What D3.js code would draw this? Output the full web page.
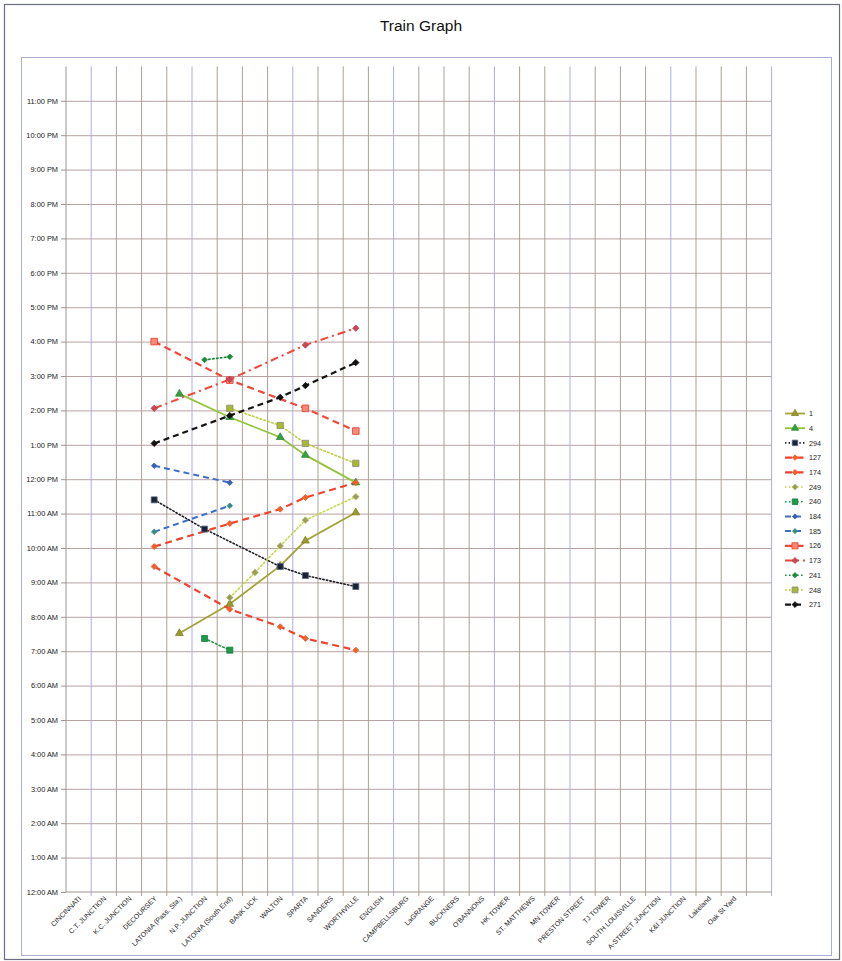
<!DOCTYPE html>
<html><head><meta charset="utf-8">
<script src="https://cdn.jsdelivr.net/npm/d3@7"></script>
<style>body{margin:0;background:#fff}svg{display:block}text{font-family:"Liberation Sans",Arial,sans-serif}</style>
</head><body><svg id="c" width="842" height="961"></svg>
<script>
// ---------- data ----------
const stations = ["CINCINNATI","C.T. JUNCTION","K.C. JUNCTION","DECOURSEY","LATONIA (Pass. Sta.)","N.P. JUNCTION","LATONIA (South End)","BANK LICK","WALTON","SPARTA","SANDERS","WORTHVILLE","ENGLISH","CAMPBELLSBURG","LaGRANGE","BUCKNERS","O'BANNONS","HK TOWER","ST. MATTHEWS","MN TOWER","PRESTON STREET","TJ TOWER","SOUTH LOUISVILLE","A-STREET JUNCTION","K&I JUNCTION","Lakeland","Oak St Yard",""];
const hourTicks = [0,1,2,3,4,5,6,7,8,9,10,11,12,13,14,15,16,17,18,19,20,21,22,23];
const hourLabels = ["12:00 AM","1:00 AM","2:00 AM","3:00 AM","4:00 AM","5:00 AM","6:00 AM","7:00 AM","8:00 AM","9:00 AM","10:00 AM","11:00 AM","12:00 PM","1:00 PM","2:00 PM","3:00 PM","4:00 PM","5:00 PM","6:00 PM","7:00 PM","8:00 PM","9:00 PM","10:00 PM","11:00 PM"];
const seriesNames = ["1","4","294","127","174","249","240","184","185","126","173","241","248","271"];
// times in decimal hours
const train1   = [["LATONIA (Pass. Sta.)",7.52],["LATONIA (South End)",8.37],["WALTON",9.48],["SPARTA",10.21],["WORTHVILLE",11.03]];
const train4   = [["LATONIA (Pass. Sta.)",14.48],["LATONIA (South End)",13.8],["WALTON",13.22],["SPARTA",12.70],["WORTHVILLE",11.9]];
const train294 = [["DECOURSEY",11.4],["N.P. JUNCTION",10.55],["WALTON",9.46],["SPARTA",9.2],["WORTHVILLE",8.88]];
const train127 = [["DECOURSEY",10.04],["LATONIA (South End)",10.71],["WALTON",11.13],["SPARTA",11.47],["WORTHVILLE",11.9]];
const train174 = [["DECOURSEY",9.46],["LATONIA (South End)",8.22],["WALTON",7.71],["SPARTA",7.37],["WORTHVILLE",7.03]];
const train249 = [["LATONIA (South End)",8.56],["BANK LICK",9.29],["WALTON",10.06],["SPARTA",10.81],["WORTHVILLE",11.49]];
const train240 = [["N.P. JUNCTION",7.37],["LATONIA (South End)",7.03]];
const train184 = [["DECOURSEY",12.39],["LATONIA (South End)",11.9]];
const train185 = [["DECOURSEY",10.47],["LATONIA (South End)",11.23]];
const train126 = [["DECOURSEY",16.0],["LATONIA (South End)",14.88],["SPARTA",14.06],["WORTHVILLE",13.4]];
const train173 = [["DECOURSEY",14.06],["LATONIA (South End)",14.9],["SPARTA",15.9],["WORTHVILLE",16.39]];
const train241 = [["N.P. JUNCTION",15.47],["LATONIA (South End)",15.56]];
const train248 = [["LATONIA (South End)",14.06],["WALTON",13.56],["SPARTA",13.04],["WORTHVILLE",12.46]];
const train271 = [["DECOURSEY",13.04],["LATONIA (South End)",13.85],["WALTON",14.38],["SPARTA",14.72],["WORTHVILLE",15.39]];
const seriesValues = [train1,train4,train294,train127,train174,train249,train240,train184,train185,train126,train173,train241,train248,train271];

// ---------- styles ----------
const T = d3.symbolTriangle, S = d3.symbolSquare, D = "diamond";
const styles = {
 "1":  {stroke:"#a3a337",w:1.8,dash:null,sym:T,size:26,fill:"#9a9a30",ms:"#7f7f20"},
 "4":  {stroke:"#93c43a",w:1.8,dash:null,sym:T,size:26,fill:"#34a040",ms:"#2a8a35"},
 "294":{stroke:"#1e1e28",w:1.6,dash:"1.4,2.2",sym:S,size:36,fill:"#1c2233",ms:"#5a6a8a"},
 "127":{stroke:"#f0432f",w:2.2,dash:"7,4.5",sym:D,size:18,fill:"#f0602a",ms:"#f0602a"},
 "174":{stroke:"#f0432f",w:2.2,dash:"7,4.5",sym:D,size:18,fill:"#f0602a",ms:"#f0602a"},
 "249":{stroke:"#c6d84c",w:1.6,dash:"1.6,2.4",sym:D,size:22,fill:"#9c9c58",ms:"#b8c070"},
 "240":{stroke:"#1f9648",w:1.6,dash:"1.6,2.4",sym:S,size:36,fill:"#1c9a4a",ms:"#157a3a"},
 "184":{stroke:"#3f6fc4",w:2.0,dash:"6,4",sym:D,size:15,fill:"#3a60b0",ms:"#3a60b0"},
 "185":{stroke:"#3f6fc4",w:2.0,dash:"6,4",sym:D,size:15,fill:"#3a8a8a",ms:"#3a8a8a"},
 "126":{stroke:"#f0483a",w:2.2,dash:"7,4.5",sym:S,size:44,fill:"#f58a78",ms:"#ea3a2c"},
 "173":{stroke:"#f0483a",w:2.0,dash:"8,4,2,4",sym:D,size:20,fill:"#c8485a",ms:"#b83a4c"},
 "241":{stroke:"#1f8a3c",w:1.6,dash:"1.6,2.4",sym:D,size:16,fill:"#1f8a3c",ms:"#1f8a3c"},
 "248":{stroke:"#bfd040",w:1.6,dash:"1.6,2.4",sym:S,size:40,fill:"#a8b832",ms:"#8a8a7a"},
 "271":{stroke:"#141414",w:2.2,dash:"6,4",sym:D,size:20,fill:"#111",ms:"#111"}
};
function markerPath(st, k){
  return d3.symbol().type(st.sym===D ? d3.symbolSquare : st.sym).size(st.size*k)();
}
function markerRot(st){ return st.sym===D ? " rotate(45)" : ""; }

// ---------- layout ----------
const svg = d3.select("#c");
const x = d3.scaleBand().domain(stations).range([66, 771.6]);
const y = d3.scaleLinear().domain([0,24]).range([892, 66.4]);

// frames
svg.append("rect").attr("x",4.5).attr("y",4.5).attr("width",835).attr("height",955)
  .attr("fill","none").attr("stroke","#6a6e80").attr("stroke-width",1.2);
svg.append("rect").attr("x",21.5).attr("y",57.5).attr("width",810).attr("height",898)
  .attr("fill","none").attr("stroke","#aab0d4").attr("stroke-width",1);

svg.append("text").attr("x",421).attr("y",31).attr("text-anchor","middle")
  .attr("font-size",15.5).attr("fill","#111").text("Train Graph");

// horizontal gridlines
const gy = svg.append("g").attr("transform","translate(66,0)")
  .call(d3.axisLeft(y).tickValues(hourTicks.slice(1)).tickSize(-(771.6-66)).tickFormat(""));
gy.select(".domain").remove();
gy.selectAll("line").attr("stroke","#b9a2a2").attr("stroke-width",1);

// vertical gridlines at band boundaries
const blueLines = [1,5,9,13,17,20,24,28];
const bounds = stations.map((s,i)=>i+1);
svg.append("g").selectAll("line").data(bounds).join("line")
  .attr("x1",k=> (k<stations.length? x(stations[k]) : x(stations[k-1])+x.bandwidth()))
  .attr("x2",k=> (k<stations.length? x(stations[k]) : x(stations[k-1])+x.bandwidth()))
  .attr("y1",y(24)).attr("y2",y(0)+4)
  .attr("stroke",k=> blueLines.includes(k) ? "#ababea" : "#aaa196").attr("stroke-width",1);

// y axis
const ya = svg.append("g").attr("transform","translate(66,0)")
  .call(d3.axisLeft(y).tickValues(hourTicks).tickSize(5).tickPadding(3)
        .tickFormat((d,i)=>hourLabels[i]));
ya.select(".domain").attr("d",`M0,${y(24)}V${y(0)}`).attr("stroke","#9a9590");
ya.selectAll("line").attr("stroke","#9a9590");
ya.selectAll("text").attr("font-size",7.4).attr("fill","#1a1a1a").attr("font-family","'Liberation Sans',Arial,sans-serif");

// x axis line
svg.append("line").attr("x1",66).attr("x2",771.6).attr("y1",y(0)).attr("y2",y(0))
  .attr("stroke","#a0958f");
svg.append("g").selectAll("text").data(stations.filter(s=>s!=="")).join("text")
  .attr("transform",d=>`translate(${x(d)+x.bandwidth()/2+3},${899}) rotate(-45)`)
  .attr("text-anchor","end").attr("font-size",7).attr("fill","#1a1a1a").text(d=>d);

// series
const line = d3.line().x(d=>x(d[0])+x.bandwidth()/2).y(d=>y(d[1]));
const gS = svg.append("g");
seriesNames.forEach((name,i)=>{
  const st = styles[name], vals = seriesValues[i];
  gS.append("path").attr("d",line(vals)).attr("fill","none")
    .attr("stroke",st.stroke).attr("stroke-width",st.w)
    .attr("stroke-dasharray",st.dash).attr("stroke-linecap",st.dash&&st.dash.startsWith("1.")?"round":"butt");
});
seriesNames.forEach((name,i)=>{
  const st = styles[name], vals = seriesValues[i];
  gS.append("g").selectAll("path").data(vals).join("path")
    .attr("transform",d=>`translate(${x(d[0])+x.bandwidth()/2},${y(d[1])})${markerRot(st)}`)
    .attr("d",markerPath(st,1))
    .attr("fill",st.fill).attr("stroke",st.ms).attr("stroke-width",0.8);
});

// legend
const lg = svg.append("g");
seriesNames.forEach((name,i)=>{
  const st = styles[name], yy = 413.5 + i*14.7;
  lg.append("line").attr("x1",785).attr("x2",805).attr("y1",yy).attr("y2",yy)
    .attr("stroke",st.stroke).attr("stroke-width",st.w).attr("stroke-dasharray",st.dash);
  lg.append("path").attr("transform",`translate(795,${yy})${markerRot(st)}`)
    .attr("d",markerPath(st,0.85))
    .attr("fill",st.fill).attr("stroke",st.ms).attr("stroke-width",0.8);
  lg.append("text").attr("x",809).attr("y",yy+2.6).attr("font-size",7.2).attr("fill","#1a1a1a").text(name);
});
</script></body></html>
